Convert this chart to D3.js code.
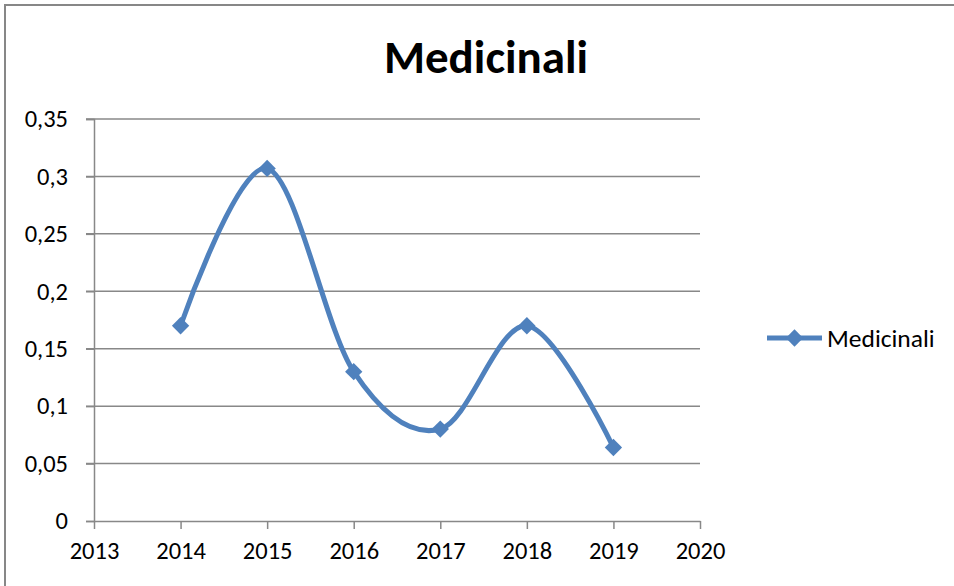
<!DOCTYPE html>
<html>
<head>
<meta charset="utf-8">
<script src="https://cdn.jsdelivr.net/npm/d3@7"></script>
<style>
  body { margin: 0; background: #fff; }
  text { font-family: Calibri, Carlito, Lato, "Open Sans", sans-serif; }
</style>
</head>
<body>
<div id="chart"></div>
<script>
const years = [2014, 2015, 2016, 2017, 2018, 2019];
const medicinali = [0.17, 0.307, 0.13, 0.08, 0.17, 0.064];
const xTicks = [2013, 2014, 2015, 2016, 2017, 2018, 2019, 2020];
const yTicks = [0, 0.05, 0.1, 0.15, 0.2, 0.25, 0.3, 0.35];
const seriesName = "Medicinali";

const width = 954, height = 586;
const margin = { top: 119, right: 254, bottom: 65, left: 94 };
const color = "#4f81bd";

const svg = d3.select("#chart").append("svg")
  .attr("width", width)
  .attr("height", height);

// outer chart border (only top and left visible in the crop)
svg.append("rect")
  .attr("x", 5).attr("y", 5)
  .attr("width", width + 10).attr("height", height + 10)
  .attr("fill", "none")
  .attr("stroke", "#878787")
  .attr("stroke-width", 2);

const x = d3.scaleLinear().domain([2013, 2020]).range([margin.left, width - margin.right]);
const y = d3.scaleLinear().domain([0, 0.35]).range([height - margin.bottom, margin.top]);

const fmt = d => d3.format("")(d).replace(".", ",");

// gridlines
svg.append("g")
  .selectAll("line")
  .data(yTicks.filter(d => d > 0))
  .join("line")
  .attr("x1", x(2013) - 8).attr("x2", x(2020))
  .attr("y1", d => y(d)).attr("y2", d => y(d))
  .attr("stroke", "#888")
  .attr("stroke-width", 1.5);

// y axis
const yAxis = svg.append("g")
  .attr("transform", `translate(${x(2013)},0)`)
  .call(d3.axisLeft(y).tickValues(yTicks).tickFormat(fmt).tickSize(8).tickPadding(18));
yAxis.select(".domain").attr("stroke", "#888").attr("stroke-width", 1.5);
yAxis.selectAll(".tick line").attr("stroke", "#888").attr("stroke-width", 1.5);
yAxis.selectAll("text").attr("font-size", 24.5).attr("fill", "#000");

// x axis
const xAxis = svg.append("g")
  .attr("transform", `translate(0,${y(0)})`)
  .call(d3.axisBottom(x).tickValues(xTicks).tickFormat(d3.format("d")).tickSize(8).tickSizeOuter(0).tickPadding(13));
xAxis.select(".domain").attr("stroke", "#888").attr("stroke-width", 1.5);
xAxis.selectAll(".tick line").attr("stroke", "#888").attr("stroke-width", 1.5);
xAxis.selectAll("text").attr("font-size", 24.5).attr("fill", "#000");

// smoothed line
const pts = years.map((yr, i) => [yr, medicinali[i]]);
const line = d3.line()
  .x(d => x(d[0]))
  .y(d => y(d[1]))
  .curve(d3.curveCatmullRom.alpha(0));

svg.append("path")
  .datum(pts)
  .attr("fill", "none")
  .attr("stroke", color)
  .attr("stroke-width", 5)
  .attr("d", line);

svg.append("g")
  .selectAll("path")
  .data(pts)
  .join("path")
  .attr("transform", d => `translate(${x(d[0])},${y(d[1])}) rotate(45)`)
  .attr("d", d3.symbol().type(d3.symbolSquare).size(150))
  .attr("fill", color);

// title
svg.append("text")
  .attr("x", 486).attr("y", 73)
  .attr("text-anchor", "middle")
  .attr("font-size", 47)
  .attr("font-weight", "bold")
  .text(seriesName);

// legend
const lg = svg.append("g").attr("transform", "translate(767,338)");
lg.append("line")
  .attr("x1", 0).attr("x2", 55)
  .attr("stroke", color).attr("stroke-width", 5);
lg.append("path")
  .attr("transform", "translate(27.5,0) rotate(45)")
  .attr("d", d3.symbol().type(d3.symbolSquare).size(150))
  .attr("fill", color);
lg.append("text")
  .attr("x", 60).attr("y", 8.5)
  .attr("font-size", 25.5)
  .text(seriesName);
</script>
</body>
</html>
